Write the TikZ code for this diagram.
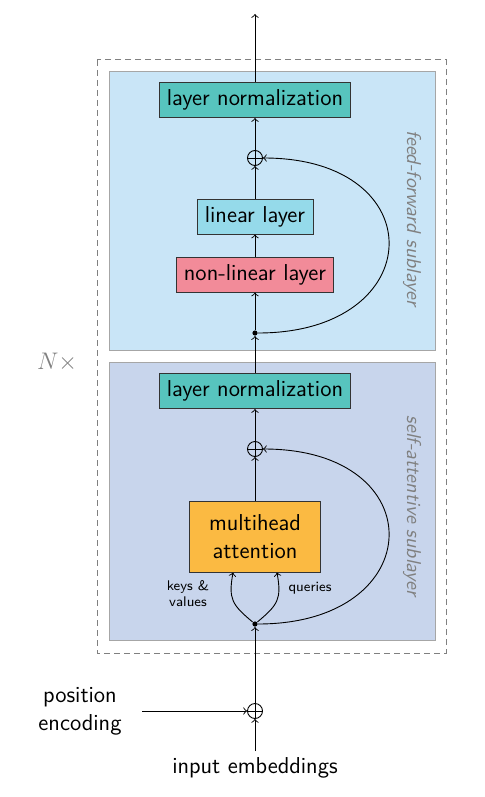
\documentclass[tikz,border=0pt]{standalone}
\usetikzlibrary{arrows.meta,calc}
\definecolor{ffbg}{HTML}{C9E5F7}
\definecolor{sabg}{HTML}{C8D5EC}
\definecolor{lnormc}{HTML}{57C4BE}
\definecolor{linc}{HTML}{95DAEA}
\definecolor{nlc}{HTML}{F28B99}
\definecolor{mhac}{HTML}{FBBA42}
\begin{document}
\begin{tikzpicture}[x=0.5pt,y=-0.5pt,
  font=\sffamily\fontsize{11.5}{14}\selectfont,
  >=to, line width=0.45pt,
  blk/.style={draw=black!80, line width=0.5pt, minimum height=17.5pt, inner sep=0pt, align=center},
  addop/.style={circle, draw, minimum size=7.5pt, inner sep=0pt,
    path picture={\draw (path picture bounding box.north) -- (path picture bounding box.south)
      (path picture bounding box.west) -- (path picture bounding box.east);}},
  jn/.style={circle, fill, inner sep=0pt, minimum size=2.6pt},
  sidelbl/.style={text=black!50, font=\sffamily\itshape\fontsize{10}{12}\selectfont, rotate=-90},
  smalllbl/.style={font=\sffamily\fontsize{7}{8}\selectfont, align=center},
  sublayer/.style={draw=black!35, line width=0.45pt}]
\useasboundingbox (0,0) rectangle (485,797);
\draw[black!50, dash pattern=on 3pt off 2pt, line width=0.5pt] (97,60) rectangle (446,653);
\draw[sublayer, fill=ffbg] (109,71) rectangle (435,350);
\draw[sublayer, fill=sabg] (109,362) rectangle (435,640);

\node[blk, fill=lnormc, minimum width=95.5pt] (ln2) at (255,100) {layer normalization};
\node[addop] (add2) at (255,158) {};
\node[blk, fill=linc, minimum width=58pt] (lin) at (255,216.5) {linear layer};
\node[blk, fill=nlc, minimum width=78.5pt] (nl) at (255,274.5) {non-linear layer};
\node[jn] (ffdot) at (255,333) {};
\node[blk, fill=lnormc, minimum width=95.5pt] (ln1) at (255,391) {layer normalization};
\node[addop] (add1) at (255,449) {};
\node[blk, fill=mhac, minimum width=65.5pt, minimum height=35.5pt] (mha) at (255,536.5) {multihead\\attention};
\node[jn] (sadot) at (255,624) {};
\node[addop] (add0) at (255,711) {};
\node (inp) at (255,768) {input embeddings};
\node[align=center] (pos) at (80,711) {position\\encoding};
\coordinate (top) at (255,14);
\coordinate (inbot) at (255,751);
\coordinate (posend) at (142,711);

\node[smalllbl] (kvl) at (188,594) {keys \&\\values};
\node[smalllbl] (ql) at (310,588) {queries};
\node[sidelbl] (fflbl) at (412,218) {feed-forward sublayer};
\node[sidelbl] (salbl) at (412,506) {self-attentive sublayer};
\node[text=black!50, font=\fontsize{12}{14}\selectfont] (nx) at (57,362) {$N\times$};

\draw[->] (inbot) -- (add0);
\draw[->] (posend) -- (add0);
\draw[->] (add0) -- (sadot);
\draw[->] (sadot) to[out=140,in=-100,looseness=1.3] ([xshift=-11pt]mha.south);
\draw[->] (sadot) to[out=40,in=-80,looseness=1.3] ([xshift=11pt]mha.south);
\draw[->] (sadot) to[out=0,in=0,looseness=2.5] (add1);
\draw[->] (mha) -- (add1);
\draw[->] (add1) -- (ln1);
\draw[->] (ln1) -- (ffdot);
\draw[->] (ffdot) -- (nl);
\draw[->] (nl) -- (lin);
\draw[->] (lin) -- (add2);
\draw[->] (ffdot) to[out=0,in=0,looseness=2.5] (add2);
\draw[->] (add2) -- (ln2);
\draw[->] (ln2) -- (top);
\end{tikzpicture}
\end{document}
